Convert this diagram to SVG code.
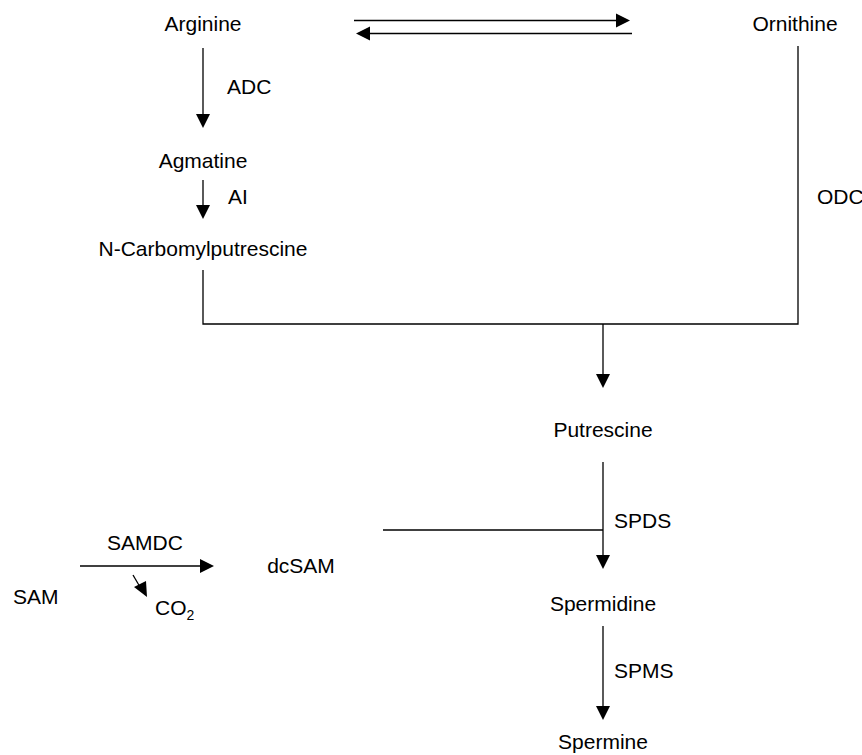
<svg xmlns="http://www.w3.org/2000/svg" width="862" height="755" viewBox="0 0 862 755">
  <style>
    text { font-family: "Liberation Sans", Arial, sans-serif; font-size: 21px; fill: #000; }
    .c { text-anchor: middle; }
    .ln { fill: none; stroke: #000; stroke-width: 1.3; }
    .hd { fill: #000; stroke: none; }
  </style>
  <rect width="862" height="755" fill="#fff"/>

  <!-- connectors -->
  <g id="connectors">
    <!-- Arginine <-> Ornithine -->
    <line class="ln" x1="354" y1="20.5" x2="617" y2="20.5"/>
    <polygon class="hd" points="616,13.5 630,20.5 616,27.5"/>
    <line class="ln" x1="632" y1="33.5" x2="369" y2="33.5"/>
    <polygon class="hd" points="370,26.5 356,33.5 370,40.5"/>
    <!-- Arginine -> Agmatine -->
    <line class="ln" x1="203" y1="48" x2="203" y2="115"/>
    <polygon class="hd" points="196,114 203,128 210,114"/>
    <!-- Agmatine -> N-Carbomylputrescine -->
    <line class="ln" x1="203" y1="180" x2="203" y2="206"/>
    <polygon class="hd" points="196,205 203,219 210,205"/>
    <!-- merge to Putrescine -->
    <polyline class="ln" points="203,270 203,324 798,324 798,46"/>
    <line class="ln" x1="603" y1="324" x2="603" y2="375"/>
    <polygon class="hd" points="596,374 603,388 610,374"/>
    <!-- Putrescine -> Spermidine -->
    <line class="ln" x1="603" y1="462" x2="603" y2="556"/>
    <polygon class="hd" points="596,555 603,569 610,555"/>
    <line class="ln" x1="383" y1="530" x2="603" y2="530"/>
    <!-- SAM -> dcSAM -->
    <line class="ln" x1="80" y1="566" x2="201" y2="566"/>
    <polygon class="hd" points="200,559 214,566 200,573"/>
    <line class="ln" x1="133" y1="575" x2="140" y2="587"/>
    <polygon class="hd" points="134,587 147,597 146,581"/>
    <!-- Spermidine -> Spermine -->
    <line class="ln" x1="603" y1="626" x2="603" y2="707"/>
    <polygon class="hd" points="596,706 603,720 610,706"/>
  </g>

  <g id="arginine"><text class="c" x="203" y="31">Arginine</text></g>
  <g id="ornithine"><text class="c" x="795" y="31">Ornithine</text></g>
  <g id="agmatine"><text class="c" x="203" y="168">Agmatine</text></g>
  <g id="ncarbomylputrescine"><text class="c" x="203" y="256">N-Carbomylputrescine</text></g>
  <g id="putrescine"><text class="c" x="603" y="437">Putrescine</text></g>
  <g id="sam"><text x="13" y="604">SAM</text></g>
  <g id="dcsam"><text class="c" x="301" y="573">dcSAM</text></g>
  <g id="co2"><text x="155" y="615">CO<tspan font-size="14" dy="5">2</tspan></text></g>
  <g id="spermidine"><text class="c" x="603" y="611">Spermidine</text></g>
  <g id="spermine"><text class="c" x="603" y="749">Spermine</text></g>

  <g id="enzymes">
    <text x="227" y="94">ADC</text>
    <text x="228" y="204">AI</text>
    <text x="817" y="204">ODC</text>
    <text class="c" x="145" y="550">SAMDC</text>
    <text x="614" y="528">SPDS</text>
    <text x="614" y="678">SPMS</text>
  </g>
</svg>
